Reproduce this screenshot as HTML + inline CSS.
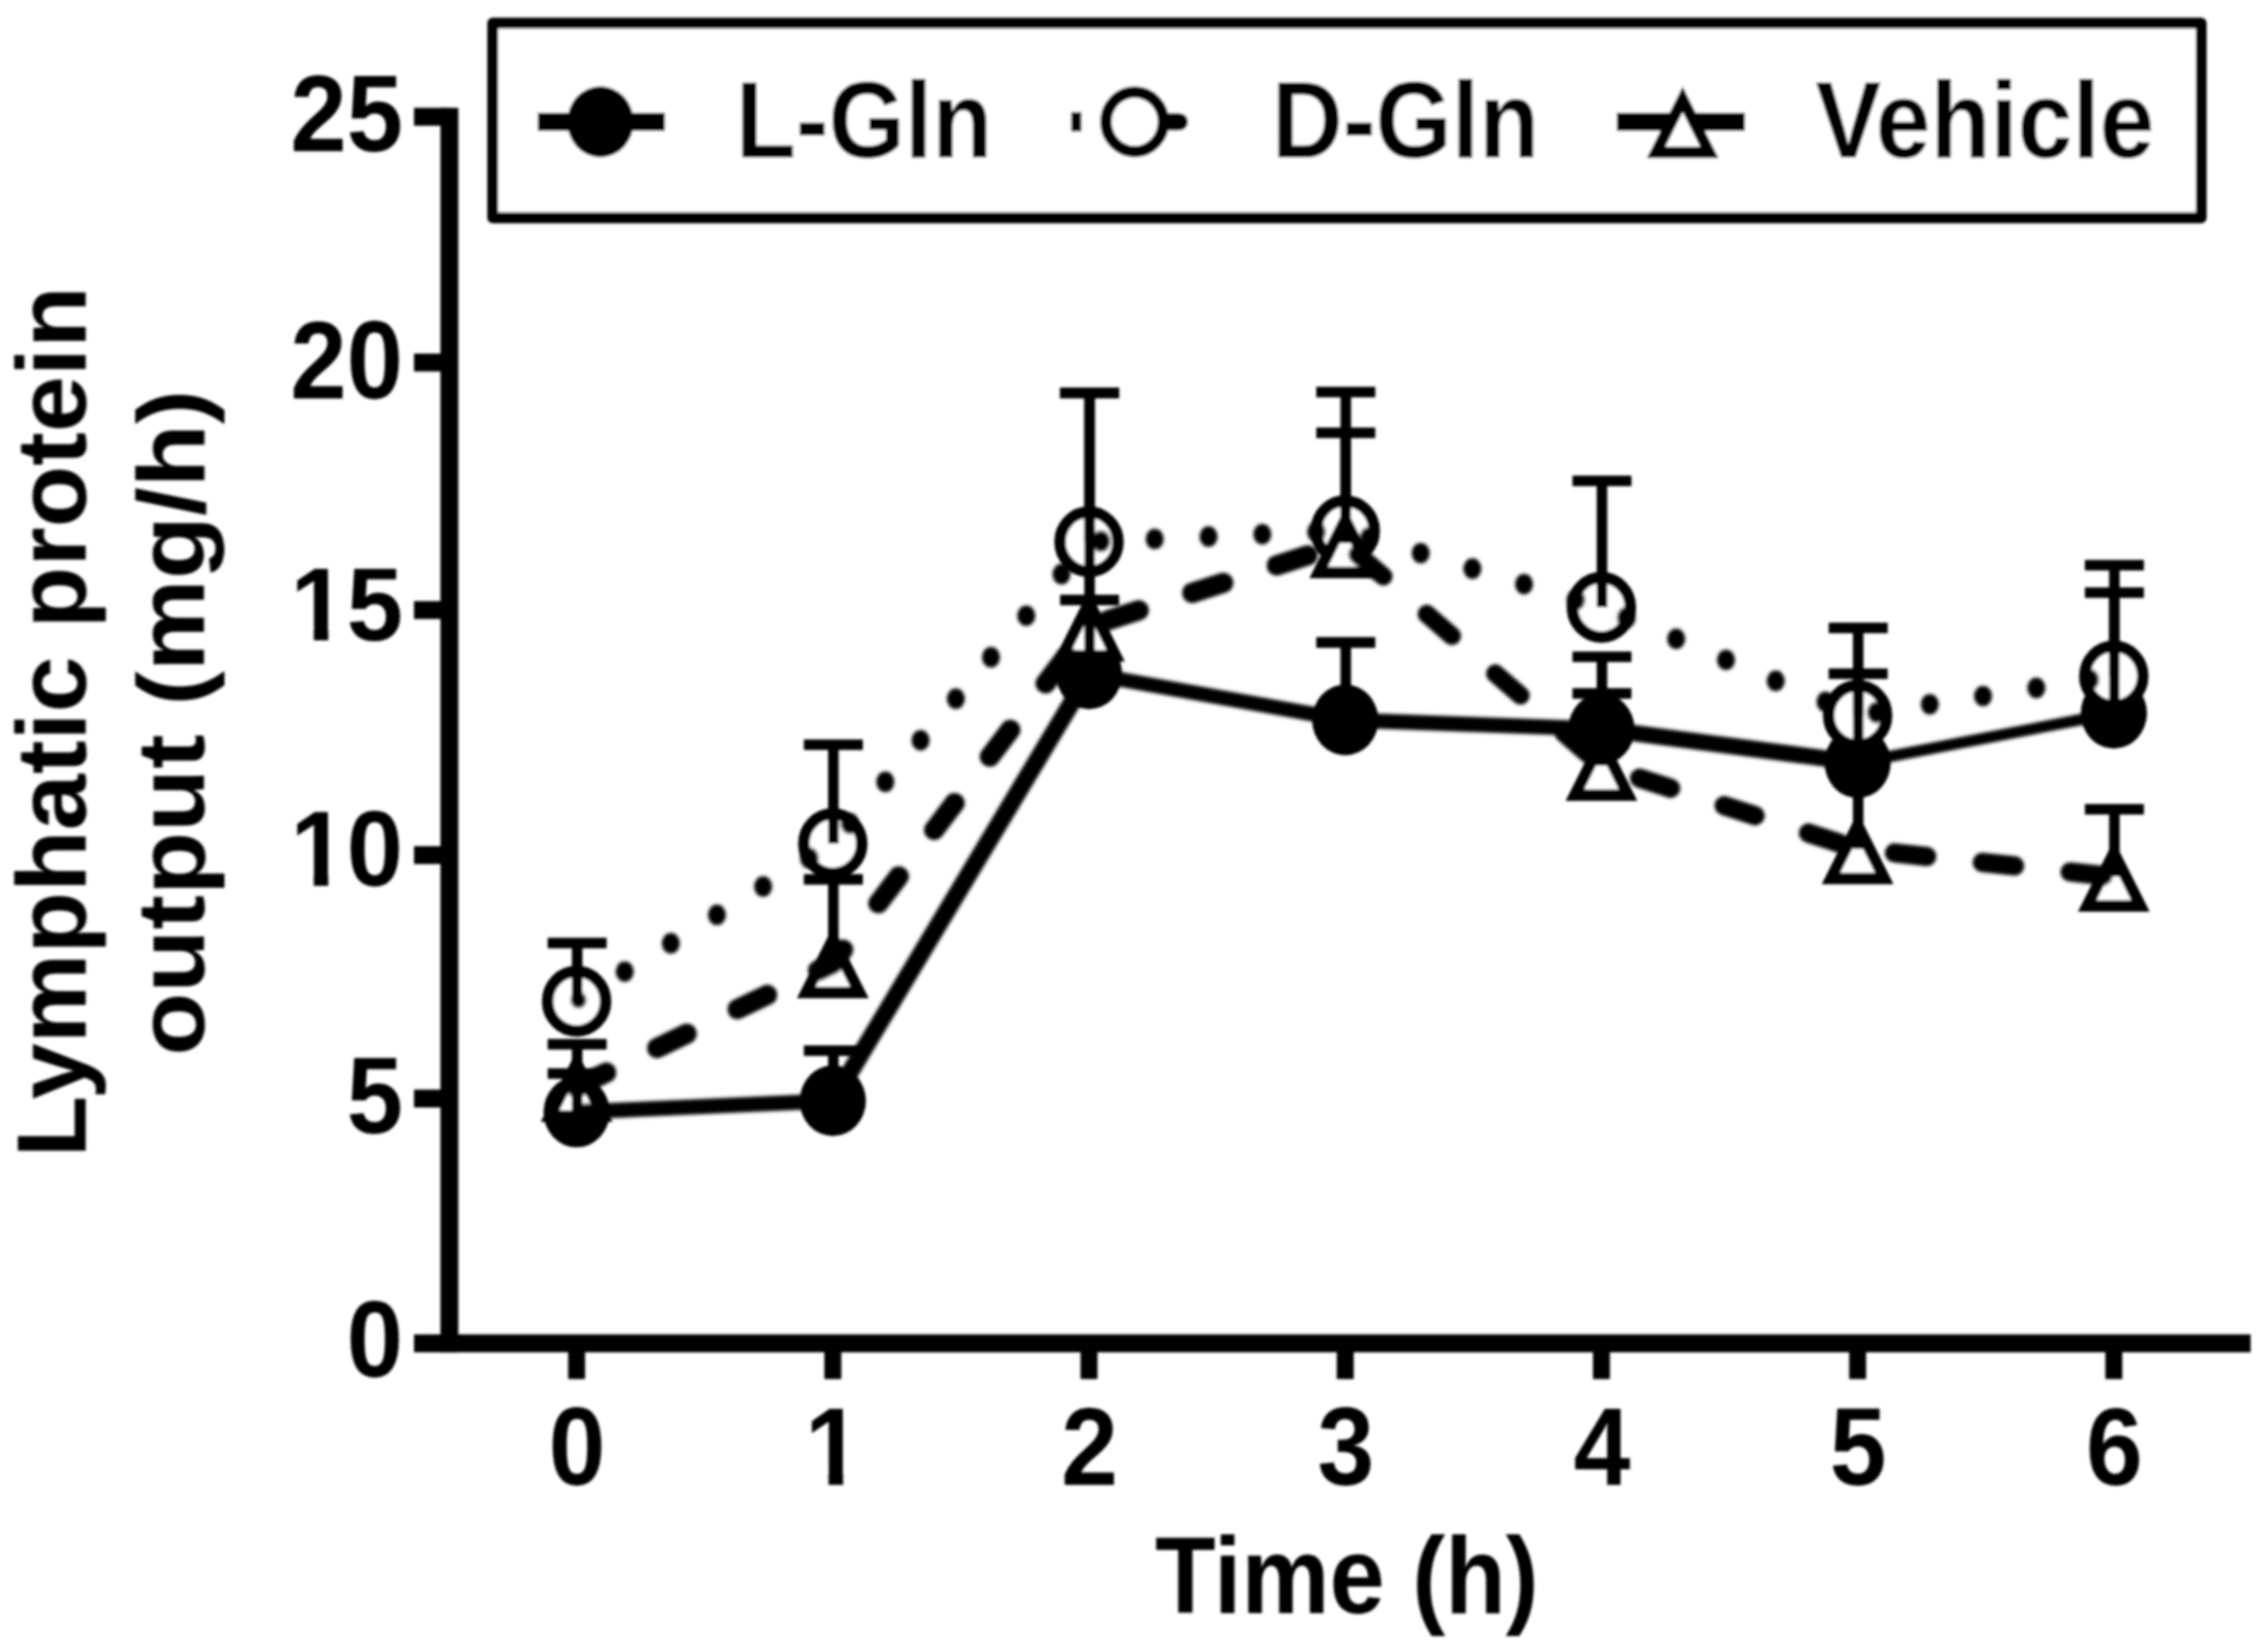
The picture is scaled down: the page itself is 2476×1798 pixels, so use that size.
<!DOCTYPE html>
<html lang="en"><head><meta charset="utf-8"><title>Lymphatic protein output</title>
<style>html,body{margin:0;padding:0;background:#fff;}body{width:2476px;height:1798px;overflow:hidden;}svg{display:block;}text{font-family:"Liberation Sans",sans-serif;font-weight:bold;fill:#000;}</style>
</head><body>
<svg width="2476" height="1798" viewBox="0 0 2476 1798">
<defs><filter id="soft" x="0" y="0" width="2476" height="1798" filterUnits="userSpaceOnUse"><feGaussianBlur stdDeviation="1.4"/></filter><filter id="soft2" x="0" y="0" width="2476" height="1798" filterUnits="userSpaceOnUse"><feGaussianBlur stdDeviation="1.4"/></filter><clipPath id="one0" clipPathUnits="userSpaceOnUse"><rect x="-124.91" y="-80.93" width="63.45" height="66.90"/><rect x="-97.42" y="-14.57" width="15.76" height="16.57"/><rect x="-61.45" y="-80.93" width="65.45" height="97.12"/></clipPath><clipPath id="one1" clipPathUnits="userSpaceOnUse"><rect x="-124.91" y="-80.93" width="63.45" height="66.90"/><rect x="-97.42" y="-14.57" width="15.76" height="16.57"/><rect x="-61.45" y="-80.93" width="65.45" height="97.12"/></clipPath><clipPath id="one2" clipPathUnits="userSpaceOnUse"><rect x="-33.01" y="-81.67" width="64.01" height="67.51"/><rect x="-5.28" y="-14.70" width="15.90" height="16.70"/></clipPath></defs>
<rect x="0" y="0" width="2476" height="1798" fill="#fff"/>
<g filter="url(#soft)">
<g id="chart" stroke="#000" fill="none">
<g id="axes" stroke-width="19.5" stroke-linecap="butt">
<path d="M490.6 117.65 V1476.35"/>
<path d="M452 1466.6 H2457"/>
<path d="M452 127.4 H490.6"/>
<path d="M452 395.7 H490.6"/>
<path d="M452 666.1 H490.6"/>
<path d="M452 933.5 H490.6"/>
<path d="M452 1199.2 H490.6"/>
<path d="M629.5 1466.6 V1505.5" stroke-width="18.5"/>
<path d="M909.2 1466.6 V1505.5" stroke-width="18.5"/>
<path d="M1188.9 1466.6 V1505.5" stroke-width="18.5"/>
<path d="M1468.6 1466.6 V1505.5" stroke-width="18.5"/>
<path d="M1748.3 1466.6 V1505.5" stroke-width="18.5"/>
<path d="M2028 1466.6 V1505.5" stroke-width="18.5"/>
<path d="M2307.7 1466.6 V1505.5" stroke-width="18.5"/>
</g>
<g id="symbols">
<ellipse cx="629.5" cy="1214" rx="36.1" ry="38.6" fill="#000" stroke="none"/>
<ellipse cx="909.2" cy="1201.7" rx="36.1" ry="38.6" fill="#000" stroke="none"/>
<ellipse cx="1188.9" cy="735.6" rx="36.1" ry="38.6" fill="#000" stroke="none"/>
<ellipse cx="1468.6" cy="785.9" rx="36.1" ry="38.6" fill="#000" stroke="none"/>
<ellipse cx="1748.3" cy="795.7" rx="36.1" ry="38.6" fill="#000" stroke="none"/>
<ellipse cx="2028" cy="832.6" rx="36.1" ry="38.6" fill="#000" stroke="none"/>
<ellipse cx="2307.7" cy="778.6" rx="36.1" ry="38.6" fill="#000" stroke="none"/>
<ellipse cx="629.5" cy="1093" rx="31.6" ry="32.4" fill="#fff" stroke-width="12.5"/>
<ellipse cx="909.2" cy="921" rx="31.6" ry="32.4" fill="#fff" stroke-width="12.5"/>
<ellipse cx="1188.9" cy="591.5" rx="31.6" ry="32.4" fill="#fff" stroke-width="12.5"/>
<ellipse cx="1468.6" cy="579.3" rx="31.6" ry="32.4" fill="#fff" stroke-width="12.5"/>
<ellipse cx="1748.3" cy="663" rx="31.6" ry="32.4" fill="#fff" stroke-width="12.5"/>
<ellipse cx="2028" cy="781" rx="31.6" ry="32.4" fill="#fff" stroke-width="12.5"/>
<ellipse cx="2307.7" cy="738" rx="31.6" ry="32.4" fill="#fff" stroke-width="12.5"/>
<path d="M629.5 1160.82 L658.5 1218.6 L600.5 1218.6 Z" fill="#fff" stroke-width="12.5" stroke-linejoin="miter"/>
<path d="M909.2 1025.82 L938.2 1083.6 L880.2 1083.6 Z" fill="#fff" stroke-width="12.5" stroke-linejoin="miter"/>
<path d="M1188.9 658.12 L1217.9 715.9 L1159.9 715.9 Z" fill="#fff" stroke-width="12.5" stroke-linejoin="miter"/>
<path d="M1468.6 567.32 L1497.6 625.1 L1439.6 625.1 Z" fill="#fff" stroke-width="12.5" stroke-linejoin="miter"/>
<path d="M1748.3 810.32 L1777.3 868.1 L1719.3 868.1 Z" fill="#fff" stroke-width="12.5" stroke-linejoin="miter"/>
<path d="M2028 901.12 L2057 958.9 L1999 958.9 Z" fill="#fff" stroke-width="12.5" stroke-linejoin="miter"/>
<path d="M2307.7 931.32 L2336.7 989.1 L2278.7 989.1 Z" fill="#fff" stroke-width="12.5" stroke-linejoin="miter"/>
</g>
<g id="lines" stroke-linejoin="round" filter="url(#soft2)">
<path d="M629.5 1214 L909.2 1201.7" stroke-width="16.5"/>
<path d="M909.2 1201.7 L1188.9 735.6" stroke-width="19.2"/>
<path d="M1188.9 735.6 L1468.6 785.9" stroke-width="16"/>
<path d="M1468.6 785.9 L1748.3 795.7" stroke-width="16.5"/>
<path d="M1748.3 795.7 L2028 832.6" stroke-width="18"/>
<path d="M2028 832.6 L2307.7 778.6" stroke-width="12.3"/>
<g id="dotted" fill="#000" stroke="none"><ellipse cx="631.6" cy="1091.7" rx="8" ry="8.5"/><ellipse cx="682.0" cy="1060.7" rx="9.8" ry="11.2"/><ellipse cx="732.4" cy="1029.8" rx="9.8" ry="11.2"/><ellipse cx="782.7" cy="998.8" rx="9.8" ry="11.2"/><ellipse cx="833.1" cy="967.8" rx="9.8" ry="11.2"/><ellipse cx="883.4" cy="936.9" rx="9.8" ry="11.2"/><ellipse cx="928.0" cy="898.9" rx="9.8" ry="11.2"/><ellipse cx="966.5" cy="853.5" rx="9.8" ry="11.2"/><ellipse cx="1005.0" cy="808.2" rx="9.8" ry="11.2"/><ellipse cx="1043.5" cy="762.8" rx="9.8" ry="11.2"/><ellipse cx="1081.9" cy="717.5" rx="9.8" ry="11.2"/><ellipse cx="1120.4" cy="672.2" rx="9.8" ry="11.2"/><ellipse cx="1158.9" cy="626.8" rx="9.8" ry="11.2"/><ellipse cx="1201.9" cy="590.9" rx="9.8" ry="11.2"/><ellipse cx="1260.6" cy="588.4" rx="9.8" ry="11.2"/><ellipse cx="1319.4" cy="585.8" rx="9.8" ry="11.2"/><ellipse cx="1378.1" cy="583.2" rx="9.8" ry="11.2"/><ellipse cx="1436.9" cy="580.7" rx="9.8" ry="11.2"/><ellipse cx="1494.5" cy="587.1" rx="9.8" ry="11.2"/><ellipse cx="1551.0" cy="603.9" rx="9.8" ry="11.2"/><ellipse cx="1607.4" cy="620.8" rx="9.8" ry="11.2"/><ellipse cx="1663.8" cy="637.7" rx="9.8" ry="11.2"/><ellipse cx="1720.2" cy="654.6" rx="9.8" ry="11.2"/><ellipse cx="1775.6" cy="674.5" rx="9.8" ry="11.2"/><ellipse cx="1829.9" cy="697.4" rx="9.8" ry="11.2"/><ellipse cx="1884.3" cy="720.4" rx="9.8" ry="11.2"/><ellipse cx="1938.6" cy="743.3" rx="9.8" ry="11.2"/><ellipse cx="1993.0" cy="766.2" rx="9.8" ry="11.2"/><ellipse cx="2048.6" cy="777.8" rx="9.8" ry="11.2"/><ellipse cx="2106.8" cy="768.9" rx="9.8" ry="11.2"/><ellipse cx="2164.9" cy="759.9" rx="9.8" ry="11.2"/><ellipse cx="2223.1" cy="751.0" rx="9.8" ry="11.2"/><ellipse cx="2281.2" cy="742.1" rx="9.8" ry="11.2"/></g>
<g id="dashed" stroke-linecap="round" stroke-linejoin="round"><path d="M629.5 1186.5 L661.9 1170.9" stroke-width="22"/><path d="M717.4 1144.1 L749.7 1128.5" stroke-width="22"/><path d="M805.2 1101.7 L837.6 1086.1" stroke-width="22"/><path d="M893.1 1059.3 L909.2 1051.5 L920.5 1036.7" stroke-width="22"/><path d="M958.9 986.1 L981.3 956.7" stroke-width="22"/><path d="M1019.8 906.1 L1042.2 876.7" stroke-width="22"/><path d="M1080.6 826.1 L1103.0 796.7" stroke-width="22"/><path d="M1141.5 746.1 L1163.9 716.7" stroke-width="22"/><path d="M1209.3 677.2 L1243.2 666.2" stroke-width="22"/><path d="M1301.5 647.2 L1335.5 636.2" stroke-width="22"/><path d="M1393.8 617.3 L1427.7 606.3" stroke-width="22"/><path d="M1482.7 605.3 L1510.3 629.2" stroke-width="20"/><path d="M1557.6 670.3 L1585.1 694.2" stroke-width="20"/><path d="M1632.4 735.3 L1660.0 759.2" stroke-width="20"/><path d="M1707.2 800.3 L1734.8 824.3" stroke-width="20"/><path d="M1789.9 849.5 L1823.9 860.5" stroke-width="21"/><path d="M1882.2 879.5 L1916.1 890.5" stroke-width="21"/><path d="M1974.4 909.4 L2008.4 920.4" stroke-width="21"/><path d="M2068.2 931.1 L2103.5 935.0" stroke-width="21"/><path d="M2164.1 941.5 L2199.4 945.3" stroke-width="21"/><path d="M2260.0 951.9 L2295.4 955.7" stroke-width="21"/></g>
</g>
<g id="errorbars" stroke-linecap="butt">
<path d="M630.1 1214 V1172" stroke-width="11.5"/><path d="M597.9 1172 H662.3" stroke-width="11.7"/>
<path d="M909.8 1201.7 V1147" stroke-width="11.5"/><path d="M877.6 1147 H942" stroke-width="11.7"/>
<path d="M1189.5 735.6 V429" stroke-width="11.5"/><path d="M1157.3 429 H1221.7" stroke-width="11.7"/>
<path d="M1469.2 785.9 V701.4" stroke-width="11.5"/><path d="M1437 701.4 H1501.4" stroke-width="11.7"/>
<path d="M1748.9 795.7 V757" stroke-width="11.5"/><path d="M1716.7 757 H1781.1" stroke-width="11.7"/>
<path d="M2028.6 832.6 V822" stroke-width="11.5"/><path d="M1996.4 822 H2060.8" stroke-width="11.7"/>
<path d="M2308.3 778.6 V647" stroke-width="11.5"/><path d="M2276.1 647 H2340.5" stroke-width="11.7"/>
<path d="M630.1 1093 V1029.5" stroke-width="11.5"/><path d="M597.9 1029.5 H662.3" stroke-width="11.7"/>
<path d="M909.8 921 V813" stroke-width="11.5"/><path d="M877.6 813 H942" stroke-width="11.7"/>
<path d="M1189.5 591.5 V429" stroke-width="11.5"/><path d="M1157.3 429 H1221.7" stroke-width="11.7"/>
<path d="M1469.2 579.3 V428" stroke-width="11.5"/><path d="M1437 428 H1501.4" stroke-width="11.7"/>
<path d="M1748.9 663 V525" stroke-width="11.5"/><path d="M1716.7 525 H1781.1" stroke-width="11.7"/>
<path d="M2028.6 781 V685.5" stroke-width="11.5"/><path d="M1996.4 685.5 H2060.8" stroke-width="11.7"/>
<path d="M2308.3 738 V617" stroke-width="11.5"/><path d="M2276.1 617 H2340.5" stroke-width="11.7"/>
<path d="M630.1 1186.5 V1140" stroke-width="11.5"/><path d="M597.9 1140 H662.3" stroke-width="11.7"/>
<path d="M909.8 1051.5 V960" stroke-width="11.5"/><path d="M877.6 960 H942" stroke-width="11.7"/>
<path d="M1189.5 683.8 V655" stroke-width="11.5"/><path d="M1157.3 655 H1221.7" stroke-width="11.7"/>
<path d="M1469.2 593 V472.5" stroke-width="11.5"/><path d="M1437 472.5 H1501.4" stroke-width="11.7"/>
<path d="M1748.9 836 V717" stroke-width="11.5"/><path d="M1716.7 717 H1781.1" stroke-width="11.7"/>
<path d="M2028.6 926.8 V735.5" stroke-width="11.5"/><path d="M1996.4 735.5 H2060.8" stroke-width="11.7"/>
<path d="M2308.3 957 V883.5" stroke-width="11.5"/><path d="M2276.1 883.5 H2340.5" stroke-width="11.7"/>
</g>
<g id="legend">
<rect x="538" y="25.2" width="1865" height="212.5" fill="#fff" stroke-width="12" stroke-linejoin="round"/>
<path d="M587 133 H726" stroke-width="20"/>
<ellipse cx="655.5" cy="133" rx="36.3" ry="38.8" fill="#000" stroke="none"/>
<path d="M1169.5 133 H1180.5" stroke-width="21"/><path d="M1268 133 H1287.5" stroke-width="19" stroke-linecap="round"/>
<ellipse cx="1238.8" cy="133" rx="31.4" ry="32.5" fill="#fff" stroke-width="12.5"/>
<path d="M1765 133 H1905" stroke-width="20"/>
<path d="M1837 108.52 L1866 166.3 L1808 166.3 Z" fill="#fff" stroke-width="12.5" stroke-linejoin="miter"/>
</g>
</g>
<g id="labels">
<text transform="translate(803.3 171.5) scale(1 1.105)" font-size="107.3" text-anchor="start">L-Gln</text>
<text transform="translate(1388.4 171.5) scale(1 1.105)" font-size="107.3" text-anchor="start">D-Gln</text>
<text transform="translate(1982.1 171.5) scale(1 1.105)" font-size="107.3" text-anchor="start">Vehicle</text>
<text transform="translate(440 164.5) scale(1 1.075)" font-size="110.5" text-anchor="end">25</text>
<text transform="translate(440 434.5) scale(1 1.085)" font-size="110.5" text-anchor="end">20</text>
<text transform="translate(440 699.3) scale(1 1.03)" font-size="110.5" text-anchor="end" clip-path="url(#one0)">15</text>
<text transform="translate(440 967) scale(1 1.05)" font-size="110.5" text-anchor="end" clip-path="url(#one1)">10</text>
<text transform="translate(440 1236.8) scale(1 1.075)" font-size="110.5" text-anchor="end">5</text>
<text transform="translate(440 1503.3) scale(1 1.07)" font-size="110.5" text-anchor="end">0</text>
<text transform="translate(630.1 1621) scale(1 1.075)" font-size="111.5" text-anchor="middle">0</text>
<text transform="translate(909.8 1621) scale(1 1.075)" font-size="111.5" text-anchor="middle" clip-path="url(#one2)">1</text>
<text transform="translate(1189.5 1621) scale(1 1.075)" font-size="111.5" text-anchor="middle">2</text>
<text transform="translate(1469.2 1621) scale(1 1.075)" font-size="111.5" text-anchor="middle">3</text>
<text transform="translate(1748.9 1621) scale(1 1.075)" font-size="111.5" text-anchor="middle">4</text>
<text transform="translate(2028.6 1621) scale(1 1.075)" font-size="111.5" text-anchor="middle">5</text>
<text transform="translate(2308.3 1621) scale(1 1.075)" font-size="111.5" text-anchor="middle">6</text>
<text transform="translate(1470.5 1760.5) scale(1 1.105)" font-size="108.2" text-anchor="middle">Time (h)</text>
<text transform="translate(94 788) rotate(-90) scale(1 0.975)" font-size="110.2" text-anchor="middle">Lymphatic protein</text>
<text transform="translate(222.5 789) rotate(-90) scale(1 0.92)" font-size="112.9" text-anchor="middle">output (mg/h)</text>
</g>
</g>
</svg>
</body></html>
